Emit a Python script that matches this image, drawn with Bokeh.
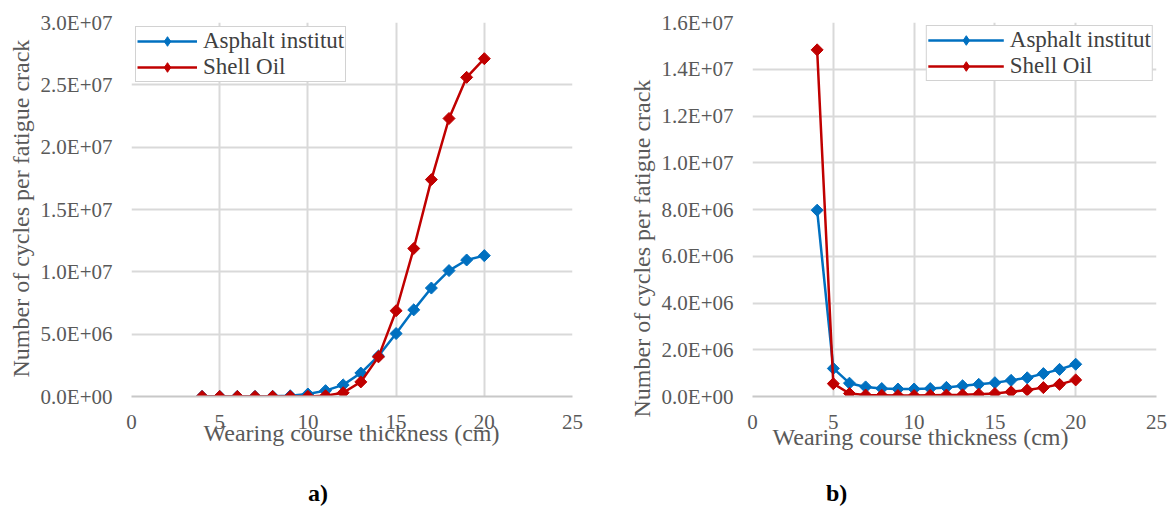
from bokeh.plotting import figure
from bokeh.layouts import row, column
from bokeh.models import (Range1d, FixedTicker, CustomJSTickFormatter, Legend,
                          LegendItem, Title, Div)
from bokeh.embed import file_html
from bokeh.resources import INLINE
import math

# ---------------- data ----------------
thickness = [4, 5, 6, 7, 8, 9, 10, 11, 12, 13, 14, 15, 16, 17, 18, 19, 20]

# panel a)
asphalt_a = [0.01e6, 0.01e6, 0.01e6, 0.01e6, 0.02e6, 0.06e6, 0.2e6, 0.47e6, 0.93e6,
             1.88e6, 3.25e6, 5.05e6, 6.95e6, 8.7e6, 10.1e6, 10.95e6, 11.3e6]
shell_a = [0.0, 0.0, 0.0, 0.0, 0.0, 0.0, 0.01e6, 0.06e6, 0.3e6,
           1.17e6, 3.18e6, 6.88e6, 11.87e6, 17.4e6, 22.3e6, 25.6e6, 27.1e6]

# panel b)
asphalt_b = [7.97e6, 1.2e6, 0.57e6, 0.41e6, 0.34e6, 0.32e6, 0.32e6, 0.34e6, 0.39e6,
             0.46e6, 0.52e6, 0.59e6, 0.69e6, 0.8e6, 0.98e6, 1.16e6, 1.38e6]
shell_b = [14.83e6, 0.55e6, 0.13e6, 0.06e6, 0.05e6, 0.04e6, 0.04e6, 0.05e6, 0.06e6,
           0.07e6, 0.1e6, 0.13e6, 0.2e6, 0.28e6, 0.38e6, 0.52e6, 0.71e6]

x_ticks = [0, 5, 10, 15, 20, 25]
y_ticks_a = [0, 5e6, 10e6, 15e6, 20e6, 25e6, 30e6]
y_ticks_b = [0, 2e6, 4e6, 6e6, 8e6, 10e6, 12e6, 14e6, 16e6]

series_names = ["Asphalt institut", "Shell Oil"]
x_title = "Wearing course thickness (cm)"
y_title = "Number of cycles per fatigue crack"
panel_labels = ["a)", "b)"]

# ---------------- style ----------------
BLUE = "#0070C0"
RED = "#C00000"
GRID = "#D9D9D9"
TXT = "#595959"
FONT = "Liberation Serif"
FIG_H = 481

fmt = CustomJSTickFormatter(code=r"""
const s = tick.toExponential(1).toUpperCase();
return s.replace(/E([+-])(\d)$/, (m, a, b) => 'E' + a + '0' + b);
""")


def make_panel(width, bl, br, bt, ymax, yticks, ya, yb, leg_loc, leg_margin, leg_glyph_w,
               ytitle_off, xtitle_off, xtitle_standoff):
    p = figure(width=width, height=FIG_H, output_backend="svg", toolbar_location=None,
               x_range=Range1d(0, 25), y_range=Range1d(0, ymax),
               min_border_left=bl, min_border_right=br, min_border_top=bt,
               min_border_bottom=FIG_H - 396)
    p.outline_line_color = None
    p.background_fill_color = "white"
    p.border_fill_color = "white"

    p.xaxis.ticker = FixedTicker(ticks=x_ticks)
    p.yaxis.ticker = FixedTicker(ticks=yticks)
    p.yaxis.formatter = fmt
    for ax in (p.xaxis, p.yaxis):
        ax.major_tick_line_color = None
        ax.minor_tick_line_color = None
        ax.major_tick_out = 0
        ax.major_tick_in = 0
        ax.minor_tick_out = 0
        ax.minor_tick_in = 0
        ax.major_label_text_font = FONT
        ax.major_label_text_font_size = "21px"
        ax.major_label_text_color = TXT
    p.xaxis.axis_line_color = "#C8C8C8"
    p.xaxis.axis_line_width = 2
    p.yaxis.axis_line_color = None
    p.xaxis.major_label_standoff = 18
    p.yaxis.major_label_standoff = 19

    p.xgrid.ticker = FixedTicker(ticks=x_ticks)
    p.ygrid.ticker = FixedTicker(ticks=yticks)
    p.grid.grid_line_color = GRID
    p.grid.grid_line_width = 2

    items = []
    for name, vals, col in ((series_names[0], ya, BLUE), (series_names[1], yb, RED)):
        lr = p.line(thickness, vals, line_color=col, line_width=2.5)
        p.scatter(thickness, vals, marker="square", size=8.5, angle=math.pi / 4,
                  fill_color=col, line_color=col)
        # legend swatch only (diamond shape); its single point is NaN so nothing is plotted
        kr = p.scatter([math.nan], [math.nan], marker="diamond", size=13,
                       fill_color=col, line_color=col)
        items.append(LegendItem(label=name, renderers=[lr, kr]))

    leg = Legend(items=items, location=leg_loc, margin=leg_margin, padding=1,
                 spacing=0, glyph_width=leg_glyph_w, glyph_height=24, label_height=24,
                 label_standoff=6, label_text_font=FONT, label_text_font_size="23px",
                 label_text_color="#404040", border_line_color="#A6A6A6",
                 border_line_width=1.5, background_fill_color="white",
                 background_fill_alpha=1.0)
    p.add_layout(leg, "center")

    p.add_layout(Title(text=y_title, align="left", offset=ytitle_off, standoff=8,
                       text_font=FONT, text_font_size="24px", text_font_style="normal",
                       text_color=TXT), "left")
    p.add_layout(Title(text=x_title, align="left", offset=xtitle_off,
                       standoff=xtitle_standoff, text_font=FONT, text_font_size="24px",
                       text_font_style="normal", text_color=TXT), "below")
    return p


pa = make_panel(590, 131, 18, 22, 30e6, y_ticks_a, asphalt_a, shell_a, "top_left", 4, 60,
                19, 72, -28)
pb = make_panel(582, 162, 16, 14, 16e6, y_ticks_b, asphalt_b, shell_b, "top_right", 3, 76,
                -21, 20, -20)

label_left_px = [308, 826]
spans = "".join(
    f'<span style="position:absolute;left:{lx}px;top:0px;">{lab}</span>'
    for lab, lx in zip(panel_labels, label_left_px))
labels_div = Div(
    text=(f'<div style="position:relative;width:1172px;height:27px;'
          f"font-family:'Liberation Serif',serif;font-size:24px;font-weight:bold;"
          f'line-height:24px;color:#000;">{spans}</div>'),
    width=1172, height=27, margin=0)

layout = column(row(pa, pb), labels_div)
open("out.html", "w").write(file_html(layout, INLINE))
